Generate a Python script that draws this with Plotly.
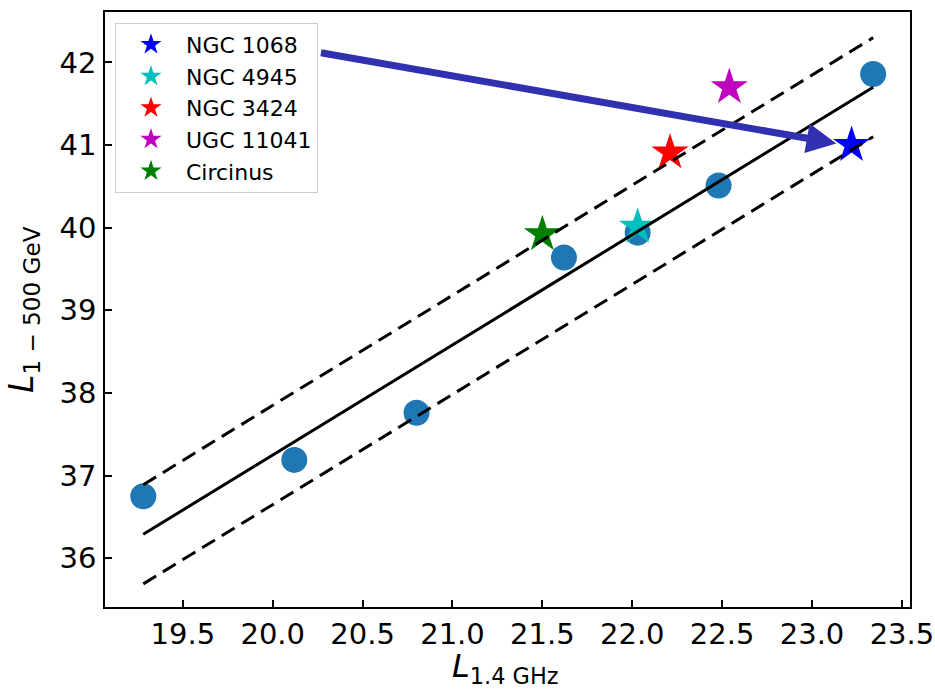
import plotly.graph_objects as go

# Data
sample_x = [19.28, 20.12, 20.80, 21.62, 22.03, 22.48, 23.34]
sample_y = [36.75, 37.19, 37.76, 39.64, 39.94, 40.51, 41.86]

star_names = ["NGC 1068", "NGC 4945", "NGC 3424", "UGC 11041", "Circinus"]
star_x = [23.22, 22.03, 22.21, 22.54, 21.50]
star_y = [41.00, 40.01, 40.91, 41.70, 39.92]
star_colors = ["#0000ff", "#00bfbf", "#ff0000", "#bf00bf", "#008000"]

fit_x = [19.28, 23.34]
fit_y = [36.29, 41.70]
band_offset = 0.6

arrow_start = (20.26, 42.12)
arrow_end = (23.135, 41.02)

x_ticks = [19.5, 20.0, 20.5, 21.0, 21.5, 22.0, 22.5, 23.0, 23.5]
y_ticks = [36, 37, 38, 39, 40, 41, 42]

x_title = "<i>L</i><sub>1.4 GHz</sub>"
y_title = "<i>L</i><sub>1 \u2212 500 GeV</sub>"

fig = go.Figure()

fig.add_trace(go.Scatter(
    x=sample_x, y=sample_y, mode="markers",
    marker=dict(size=26, color="#1f77b4", line=dict(width=0)),
    showlegend=False, hoverinfo="skip"))

for name, xv, yv, col in zip(star_names, star_x, star_y, star_colors):
    fig.add_trace(go.Scatter(
        x=[xv], y=[yv], mode="markers", name=name,
        marker=dict(symbol="star", size=28, color=col, line=dict(width=0))))

fig.add_trace(go.Scatter(
    x=fit_x, y=fit_y, mode="lines",
    line=dict(color="black", width=3), showlegend=False))
fig.add_trace(go.Scatter(
    x=fit_x, y=[v + band_offset for v in fit_y], mode="lines",
    line=dict(color="black", width=3, dash="15px,8px"), showlegend=False))
fig.add_trace(go.Scatter(
    x=fit_x, y=[v - band_offset for v in fit_y], mode="lines",
    line=dict(color="black", width=3, dash="15px,8px"), showlegend=False))

fig.add_annotation(
    x=arrow_end[0], y=arrow_end[1], ax=arrow_start[0], ay=arrow_start[1],
    xref="x", yref="y", axref="x", ayref="y",
    showarrow=True, arrowhead=2, arrowsize=0.85, arrowwidth=7,
    arrowcolor="#3030b0", text="")

font_family = "DejaVu Sans"

# axis titles as annotations for precise placement
fig.add_annotation(
    text=x_title, xref="paper", yref="paper", x=0.497, y=0,
    xanchor="center", yanchor="top", yshift=-38, showarrow=False,
    font=dict(size=32, color="black", family=font_family))
fig.add_annotation(
    text=y_title, xref="paper", yref="paper", x=0, y=0.5,
    xanchor="right", yanchor="middle", xshift=-58, showarrow=False,
    textangle=-90, font=dict(size=33, color="black", family=font_family))

fig.update_xaxes(
    range=[19.067, 23.545], tickvals=x_ticks,
    ticktext=[f"{v:.1f}" for v in x_ticks], automargin=False,
    ticks="inside", ticklen=7, tickwidth=1.5, tickcolor="black",
    showline=True, linecolor="black", linewidth=1.5, mirror=True,
    showgrid=False, zeroline=False, ticklabelstandoff=0,
    tickfont=dict(size=29, color="black", family=font_family))
fig.update_yaxes(
    range=[35.41, 42.61], tickvals=y_ticks, automargin=False,
    ticks="inside", ticklen=7, tickwidth=1.5, tickcolor="black",
    showline=True, linecolor="black", linewidth=1.5, mirror=True,
    showgrid=False, zeroline=False, ticklabelstandoff=1,
    tickfont=dict(size=29, color="black", family=font_family))

fig.update_layout(
    width=935, height=690,
    margin=dict(l=105, r=25, t=12, b=83),
    plot_bgcolor="white", paper_bgcolor="white",
    font=dict(family=font_family, color="black"),
    legend=dict(x=0.0124, y=0.982, xanchor="left", yanchor="top",
                bgcolor="rgba(255,255,255,0.8)", bordercolor="#cccccc",
                borderwidth=1, itemwidth=60,
                font=dict(size=22, family=font_family)),
)

fig.write_html("out.html")
